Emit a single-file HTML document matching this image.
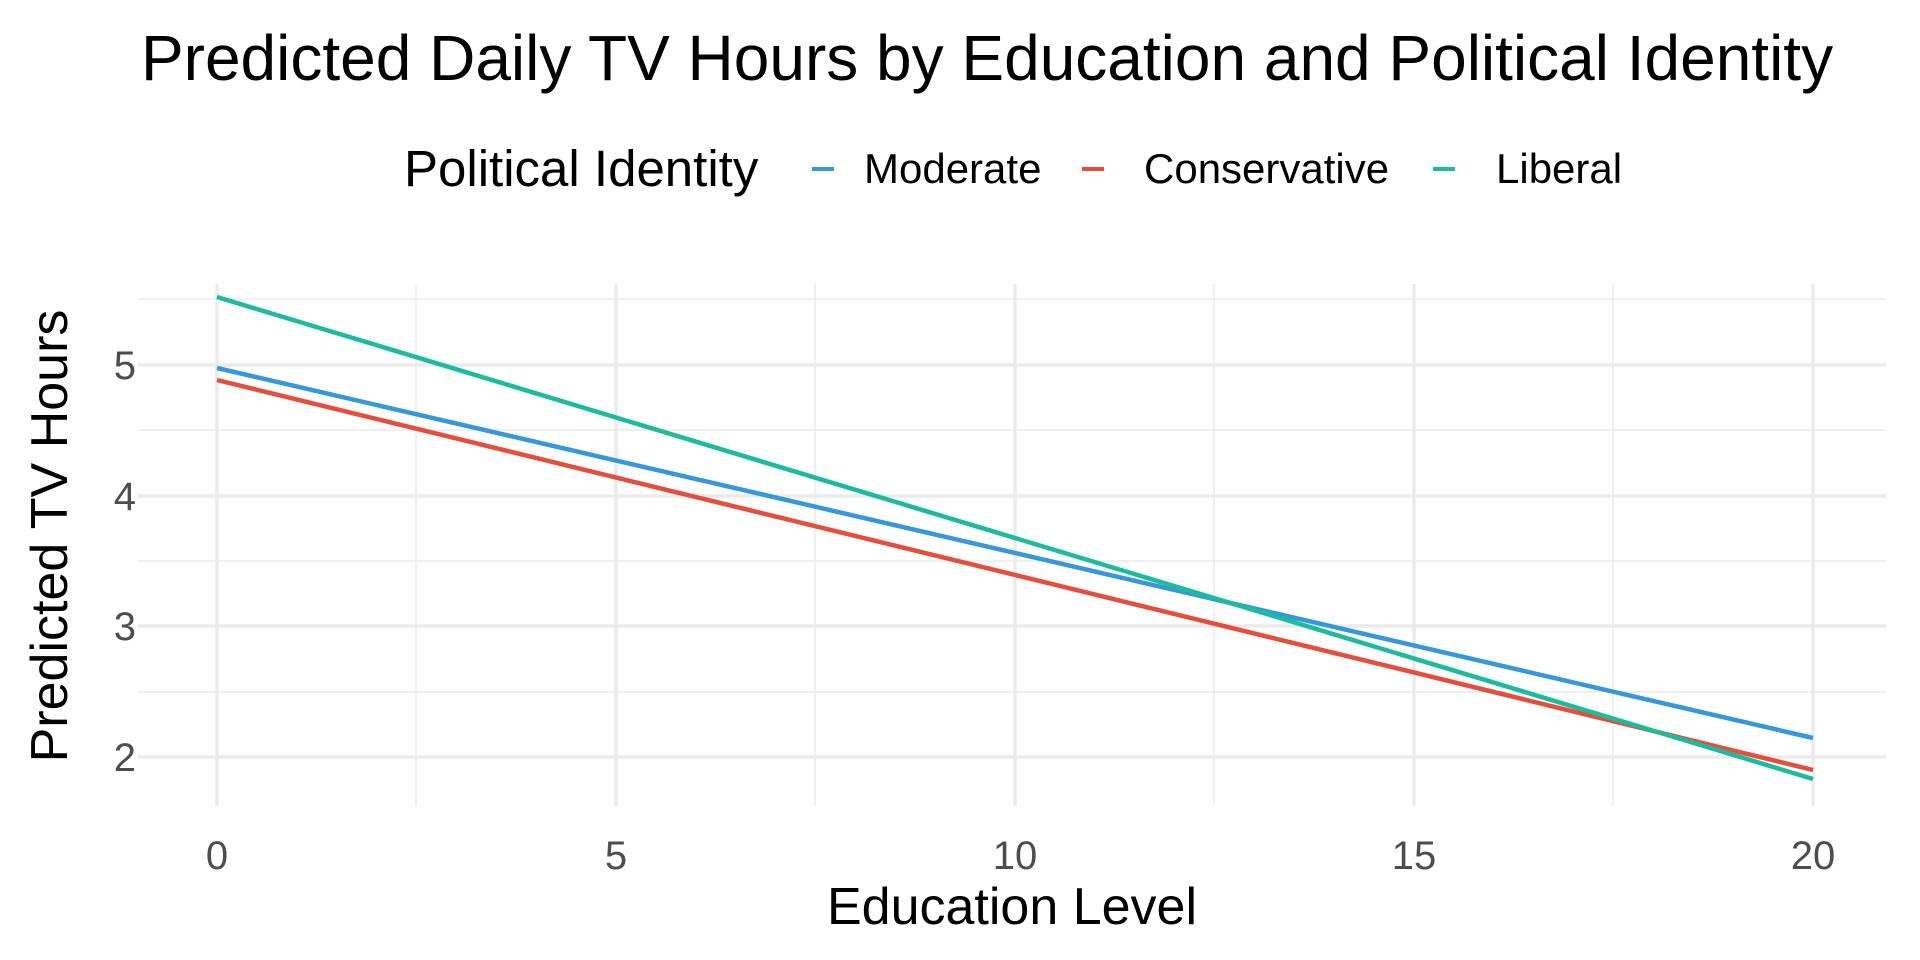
<!DOCTYPE html>
<html><head><style>body{margin:0;background:#fff}svg{display:block}</style></head><body>
<svg width="1920" height="960" xmlns="http://www.w3.org/2000/svg" font-family="Liberation Sans, Arial, sans-serif">
<rect width="1920" height="960" fill="#fff"/>
<text x="987" y="80" font-size="64" text-anchor="middle" fill="#000">Predicted Daily TV Hours by Education and Political Identity</text>
<text x="404" y="186" font-size="51" fill="#000">Political Identity</text>
<line x1="812" y1="169" x2="834" y2="169" stroke="#3498db" stroke-width="4"/>
<text x="864" y="183" font-size="42" fill="#000">Moderate</text>
<line x1="1082" y1="169" x2="1104" y2="169" stroke="#e74c3c" stroke-width="4"/>
<text x="1144" y="183" font-size="42" fill="#000">Conservative</text>
<line x1="1433" y1="169" x2="1455" y2="169" stroke="#1abc9c" stroke-width="4"/>
<text x="1496" y="183" font-size="42" fill="#000">Liberal</text>
<g stroke="#ebebeb" stroke-width="1.5">
<line x1="138" x2="1886" y1="299" y2="299"/><line x1="138" x2="1886" y1="430" y2="430"/><line x1="138" x2="1886" y1="561" y2="561"/><line x1="138" x2="1886" y1="692" y2="692"/>
<line x1="416" x2="416" y1="284" y2="806"/><line x1="815" x2="815" y1="284" y2="806"/><line x1="1214" x2="1214" y1="284" y2="806"/><line x1="1613" x2="1613" y1="284" y2="806"/>
</g>
<g stroke="#ebebeb" stroke-width="3.5">
<line x1="138" x2="1886" y1="365" y2="365"/><line x1="138" x2="1886" y1="496" y2="496"/><line x1="138" x2="1886" y1="626" y2="626"/><line x1="138" x2="1886" y1="757" y2="757"/>
<line x1="217" x2="217" y1="284" y2="806"/><line x1="616" x2="616" y1="284" y2="806"/><line x1="1015" x2="1015" y1="284" y2="806"/><line x1="1414" x2="1414" y1="284" y2="806"/><line x1="1813" x2="1813" y1="284" y2="806"/>
</g>
<g stroke-width="4.5">
<line x1="217" y1="368" x2="1813" y2="738" stroke="#3498db"/>
<line x1="217" y1="380" x2="1813" y2="770" stroke="#e74c3c"/>
<line x1="217" y1="297" x2="1813" y2="779" stroke="#1abc9c"/>
</g>
<g font-size="40" fill="#4d4d4d" text-anchor="end">
<text x="136" y="379">5</text><text x="136" y="510">4</text><text x="136" y="640">3</text><text x="136" y="771">2</text>
</g>
<g font-size="40" fill="#4d4d4d" text-anchor="middle">
<text x="217" y="869">0</text><text x="616" y="869">5</text><text x="1015" y="869">10</text><text x="1414" y="869">15</text><text x="1813" y="869">20</text>
</g>
<text x="1012" y="924" font-size="52" text-anchor="middle" fill="#000">Education Level</text>
<text transform="translate(67,536) rotate(-90)" font-size="52" text-anchor="middle" fill="#000">Predicted TV Hours</text>
</svg>
</body></html>
